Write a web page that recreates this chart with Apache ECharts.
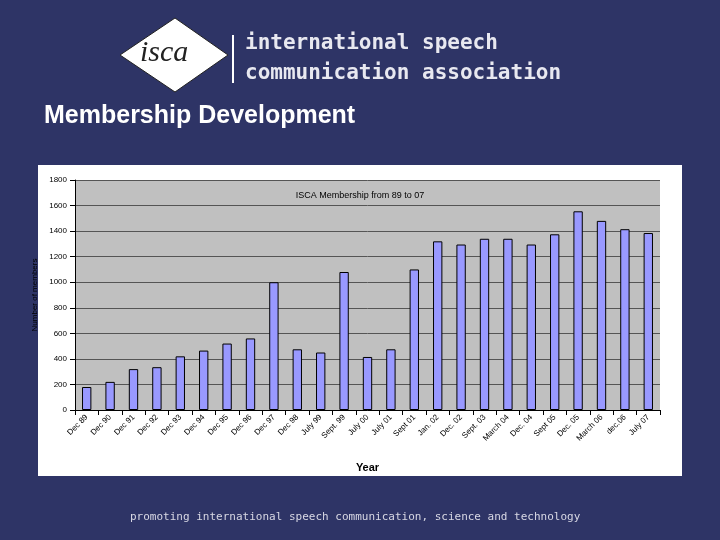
<!DOCTYPE html>
<html><head><meta charset="utf-8">
<script src="https://cdn.jsdelivr.net/npm/echarts@6/dist/echarts.min.js"></script>
<style>html,body{margin:0;padding:0;background:#2e3466;}#c{width:720px;height:540px;}</style>
</head><body><div id="c"></div>
<script>
const categories=["Dec 89","Dec 90","Dec 91","Dec 92","Dec 93","Dec 94","Dec 95","Dec 96","Dec 97","Dec 98","July 99","Sept. 99","July 00","July 01","Sept 01","Jan. 02","Dec. 02","Sept. 03","March 04","Dec. 04","Sept 05","Dec. 05","March 06","dec.06","July 07"];
const members=[180,220,320,335,420,465,520,560,1000,475,450,1080,415,475,1100,1320,1295,1340,1340,1295,1375,1555,1480,1415,1385];
const yTicks={min:0,max:1800,interval:200};
const chart=echarts.init(document.getElementById('c'));
chart.setOption({
  backgroundColor:'#2e3466',
  animation:false,
  graphic:[
    {type:'rect',shape:{x:38,y:165,width:644,height:311},style:{fill:'#ffffff'},z:-10},
    {type:'polygon',shape:{points:[[120,55],[175,18],[228,55],[175,92]]},style:{fill:'#ffffff',stroke:'#222',lineWidth:1}},
    {type:'text',left:140,top:38,style:{text:'isca',font:'italic 30px serif',fill:'#222'}},
    {type:'rect',shape:{x:232,y:35,width:2,height:48},style:{fill:'#ffffff'}},
    {type:'text',left:245,top:33,style:{text:'international speech',font:'bold 21px "DejaVu Sans Mono"',fill:'#e8e8f0'}},
    {type:'text',left:245,top:63,style:{text:'communication association',font:'bold 21px "DejaVu Sans Mono"',fill:'#e8e8f0'}},
    {type:'text',left:44,top:104,style:{text:'Membership Development',font:'bold 25px "Liberation Sans"',fill:'#ffffff'}},
    {type:'text',left:130,top:512,style:{text:'promoting international speech communication, science and technology',font:'11px "DejaVu Sans Mono"',fill:'#d8d8e4'}}
  ],
  title:{text:'ISCA Membership from 89 to 07',left:'center',top:186,textStyle:{fontSize:9,fontWeight:'normal',color:'#000',fontFamily:'Liberation Sans'}},
  grid:{left:75,right:60,top:180,bottom:130},
  xAxis:{type:'category',data:categories,name:'Year',nameLocation:'middle',nameGap:52,
    nameTextStyle:{fontSize:11,fontWeight:'bold',color:'#000',fontFamily:'Liberation Sans'},
    axisLine:{lineStyle:{color:'#000'}},axisTick:{show:true,lineStyle:{color:'#000'}},
    axisLabel:{rotate:45,interval:0,fontSize:8,color:'#000',fontFamily:'Liberation Sans',margin:6}},
  yAxis:{type:'value',min:yTicks.min,max:yTicks.max,interval:yTicks.interval,name:'Number of members',nameLocation:'middle',nameGap:25,
    nameTextStyle:{fontSize:8,color:'#000',fontFamily:'Liberation Sans'},
    axisLine:{show:true,lineStyle:{color:'#000'}},axisTick:{show:true,lineStyle:{color:'#000'}},
    axisLabel:{fontSize:8,color:'#000',fontFamily:'Liberation Sans',formatter:v=>String(v)},
    splitLine:{lineStyle:{color:'#555',width:1}},
    splitArea:{show:true,areaStyle:{color:['#c0c0c0','#c0c0c0']}}},
  series:[{type:'bar',data:members,barWidth:'40%',itemStyle:{color:'#9999ff',borderColor:'#000',borderWidth:1}}]
});
</script></body></html>
